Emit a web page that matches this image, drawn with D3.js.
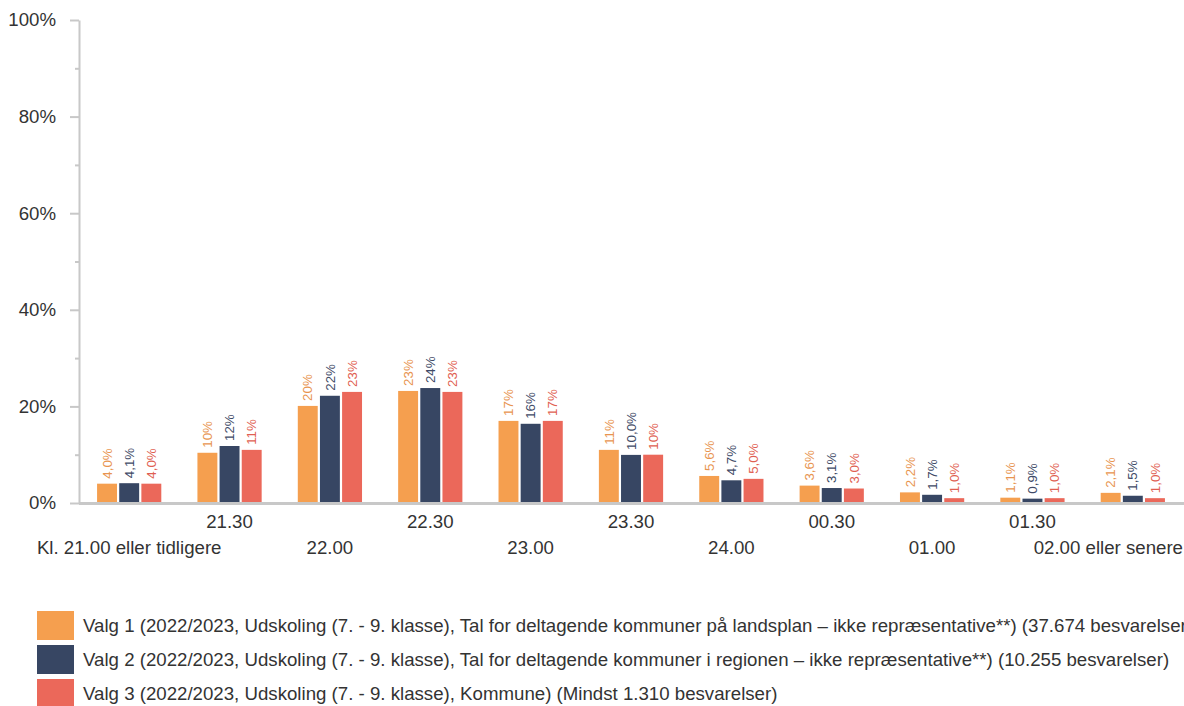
<!DOCTYPE html>
<html>
<head>
<meta charset="utf-8">
<script src="https://cdn.jsdelivr.net/npm/d3@7"></script>
<style>
  body { margin: 0; background: #fff; }
  svg { font-family: "Liberation Sans", Arial, sans-serif; display: block; }
</style>
</head>
<body>
<div id="chart"></div>
<script>
const categories = ["Kl. 21.00 eller tidligere", "21.30", "22.00", "22.30", "23.00", "23.30",
                    "24.00", "00.30", "01.00", "01.30", "02.00 eller senere"];
const seriesNames = [
  "Valg 1 (2022/2023, Udskoling (7. - 9. klasse), Tal for deltagende kommuner på landsplan – ikke repræsentative**) (37.674 besvarelser)",
  "Valg 2 (2022/2023, Udskoling (7. - 9. klasse), Tal for deltagende kommuner i regionen – ikke repræsentative**) (10.255 besvarelser)",
  "Valg 3 (2022/2023, Udskoling (7. - 9. klasse), Kommune) (Mindst 1.310 besvarelser)"
];
const valg1 = [4.0, 10.4, 20.1, 23.2, 17.0, 11.0, 5.6, 3.6, 2.2, 1.1, 2.1];
const valg2 = [4.1, 11.8, 22.2, 23.8, 16.4, 9.96, 4.7, 3.1, 1.7, 0.9, 1.5];
const valg3 = [4.0, 11.0, 23.0, 23.0, 17.0, 10.0, 5.0, 3.0, 1.0, 1.0, 1.0];
const yTicks = [0, 20, 40, 60, 80, 100];
const yMinorTicks = [10, 30, 50, 70, 90];

const barColors = ["#f59f4f", "#374663", "#eb685a"];
const labelColors = ["#e8944f", "#3e4a66", "#df5f52"];

const width = 1184, height = 706;
const plotLeft = 79, plotRight = 1183, plotTop = 20, plotBottom = 503;
const fontSize = 18.67;

const series = [valg1, valg2, valg3];
const data = categories.map((c, i) => ({ cat: c, values: series.map((s, k) => ({ k, v: s[i] })) }));

const svg = d3.select("#chart").append("svg")
  .attr("width", width)
  .attr("height", height);

const x0 = d3.scaleBand().domain(categories).range([plotLeft, plotRight]).paddingInner(0.36).paddingOuter(0.18);
const x1 = d3.scaleBand().domain([0, 1, 2]).range([0, x0.bandwidth()]).paddingInner(0.1);
const y = d3.scaleLinear().domain([0, 100]).range([plotBottom, plotTop]);

// y axis
const yAxis = svg.append("g").attr("transform", `translate(${plotLeft},0)`)
  .call(d3.axisLeft(y).tickValues(yTicks).tickSize(9).tickSizeOuter(0).tickPadding(14).tickFormat(d => d + "%"));
yAxis.attr("font-family", null).attr("font-size", null);
yAxis.select(".domain").attr("stroke", "#c8c8c8").attr("stroke-width", 2);
yAxis.selectAll(".tick line").attr("stroke", "#c8c8c8").attr("stroke-width", 2);
yAxis.selectAll(".tick text").attr("font-size", fontSize).attr("fill", "#333");

const yMinor = svg.append("g").attr("transform", `translate(${plotLeft},0)`)
  .call(d3.axisLeft(y).tickValues(yMinorTicks).tickSize(4).tickSizeOuter(0).tickFormat(""));
yMinor.select(".domain").remove();
yMinor.selectAll(".tick line").attr("stroke", "#c8c8c8").attr("stroke-width", 2);

// bars
const groups = svg.selectAll("g.grp").data(data).enter().append("g")
  .attr("class", "grp")
  .attr("transform", d => `translate(${x0(d.cat)},0)`);

groups.selectAll("rect").data(d => d.values).enter().append("rect")
  .attr("x", d => x1(d.k))
  .attr("y", d => y(d.v))
  .attr("width", x1.bandwidth())
  .attr("height", d => plotBottom - y(d.v))
  .attr("fill", d => barColors[d.k]);

const fmt = v => (v < 10 ? v.toFixed(1) : Math.round(v).toString()).replace(".", ",") + "%";

groups.selectAll("text").data(d => d.values).enter().append("text")
  .attr("transform", d => `translate(${x1(d.k) + x1.bandwidth() / 2},${y(d.v) - 5}) rotate(-90)`)
  .attr("dy", "0.35em")
  .attr("font-size", 13.33)
  .attr("fill", d => labelColors[d.k])
  .text(d => fmt(d.v));

// x axis line
svg.append("line")
  .attr("x1", plotLeft).attr("x2", width)
  .attr("y1", plotBottom + 0.5).attr("y2", plotBottom + 0.5)
  .attr("stroke", "#c8c8c8").attr("stroke-width", 3);

// x labels, alternating rows
svg.append("g").selectAll("text").data(categories).enter().append("text")
  .attr("x", d => x0(d) + x0.bandwidth() / 2)
  .attr("y", (d, i) => i % 2 === 1 ? 528 : 554)
  .attr("text-anchor", "middle")
  .attr("font-size", fontSize)
  .attr("fill", "#333")
  .text(d => d)
  .each(function () {
    const w = this.getComputedTextLength();
    const cx = +this.getAttribute("x");
    if (cx + w / 2 > width - 1) this.setAttribute("x", width - 1 - w / 2);
  });

// legend
const legend = svg.append("g").selectAll("g").data(seriesNames).enter().append("g")
  .attr("transform", (d, i) => `translate(37,${611 + i * 34})`);
legend.append("rect").attr("width", 37).attr("height", 29).attr("fill", (d, i) => barColors[i]);
legend.append("text").attr("x", 46).attr("y", 21).attr("font-size", fontSize).attr("fill", "#333").text(d => d);
</script>
</body>
</html>
